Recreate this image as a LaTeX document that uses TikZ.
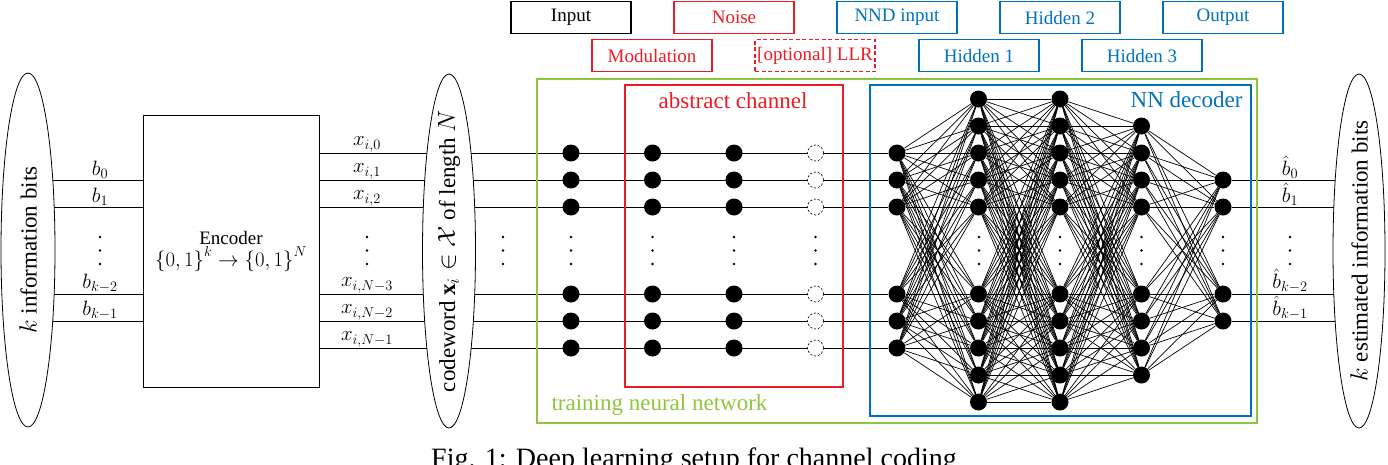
\documentclass[tikz,border=0pt]{standalone}
\usepackage{fontspec}
\setmainfont{Liberation Serif}
\usetikzlibrary{shapes.geometric}
\definecolor{myred}{RGB}{237,28,36}
\definecolor{mygreen}{RGB}{141,198,63}
\definecolor{myblue}{RGB}{0,114,188}
\pgfdeclarelayer{edges}
\pgfsetlayers{edges,main}
\begin{document}
\begin{tikzpicture}[x=1pt,y=-1pt,
  every node/.style={font=\fontsize{19}{22}\selectfont},
  neuron/.style={circle, fill=black, inner sep=0pt, minimum size=17pt},
  llrnode/.style={circle, draw, dash pattern=on 2.2pt off 1.8pt, line width=0.6pt, fill=white, inner sep=0pt, minimum size=16pt},
  legend/.style={draw, line width=1.4pt, minimum width=120pt, minimum height=32pt, inner sep=0pt},
  grpline/.style={line width=1.5pt},
  bigell/.style={ellipse, draw, line width=0.8pt, fill=white, minimum width=54pt, minimum height=354pt, inner sep=0pt},
  wire/.style={line width=0.8pt},
  syn/.style={line width=0.7pt},
  bigtext/.style={font=\fontsize{23}{26}\selectfont},
  lab/.style={anchor=south, inner sep=1pt, font=\fontsize{21}{23}\selectfont}]
\useasboundingbox (0,0) rectangle (1388,464);

% group boxes
\draw[grpline, draw=mygreen] (537,79) coordinate (trainNW) rectangle (1257,423) coordinate (trainSE);
\draw[grpline, draw=myred] (625,85) coordinate (chanNW) rectangle (843,387) coordinate (chanSE);
\draw[grpline, draw=myblue] (870,85) coordinate (decNW) rectangle (1251,416) coordinate (decSE);
\node[bigtext, text=myred] (chanlab) at (733,101) {abstract channel};
\node[bigtext, text=myblue, anchor=east] (declab) at (1246,100) {NN decoder};
\node[bigtext, text=mygreen, anchor=west] (trainlab) at (548,405) {training neural network};

% legend
\node[legend] (lgin) at (571,17.5) {Input};
\node[legend, myred] (lgmod) at (652,55.5) {Modulation};
\node[legend, myred] (lgnoise) at (734,17.5) {Noise};
\node[legend, myred, dash pattern=on 4pt off 2.5pt] (lgllr) at (815,55.5) {[optional] LLR};
\node[legend, myblue] (lgnnd) at (897,17.5) {NND input};
\node[legend, myblue] (lgh1) at (979,55.5) {Hidden 1};
\node[legend, myblue] (lgh2) at (1060,17.5) {Hidden 2};
\node[legend, myblue] (lgh3) at (1142,55.5) {Hidden 3};
\node[legend, myblue] (lgout) at (1223,17.5) {Output};

% ellipses and encoder
\node[bigell] (kin) at (28,250) {};
\node[bigtext, rotate=90] (kintext) at (kin.center) {$k$ information bits};
\node[bigell, minimum width=53pt] (cw) at (449,251) {};
\node[bigtext, rotate=90] (cwtext) at (cw.center) {codeword $\mathbf{x}_i \in \mathcal{X}$ of length $N$};
\node[bigell, minimum width=52pt] (kout) at (1359,251) {};
\node[bigtext, rotate=90] (kouttext) at (kout.center) {$k$ estimated information bits};
\node[draw, line width=0.8pt, fill=white, minimum width=176pt, minimum height=272pt, inner sep=0pt, align=center] (enc) at (231,251) {Encoder\\ \fontsize{21}{22}\selectfont $\left\{0,1\right\}^k \rightarrow \left\{0,1\right\}^N$};

% neurons
\foreach \c in {0,1,2,4} {
  \foreach \y [count=\r] in {153,180,207,294,321,348}
    \node[neuron] (n\c-\r) at ({571+81.5*\c},\y) {};
}
\foreach \y [count=\r] in {153,180,207,294,321,348}
  \node[llrnode] (n3-\r) at (815.5,\y) {};
\foreach \c in {5,6} {
  \foreach \y [count=\r] in {99,126,153,180,207,294,321,348,375,402}
    \node[neuron] (n\c-\r) at ({571+81.5*\c},\y) {};
}
\foreach \y [count=\r] in {126,153,180,207,294,321,348,375}
  \node[neuron] (n7-\r) at (1141.5,\y) {};
\foreach \y [count=\r] in {180,207,294,321}
  \node[neuron] (n8-\r) at (1223,\y) {};

% connectors
\begin{pgfonlayer}{edges}
\foreach \r in {1,...,6} \draw[wire] (enc.east |- n0-\r) -- (n4-\r);
\foreach \y in {180,207,294,321} \draw[wire] (kin.center |- 0,\y) -- (enc.west |- 0,\y);
\foreach \r in {1,...,4} \draw[wire] (n8-\r) -- (kout.center |- n8-\r);
\foreach \i in {1,...,6} \foreach \j in {1,...,10} \draw[syn] (n4-\i) -- (n5-\j);
\foreach \i in {1,...,10} \foreach \j in {1,...,10} \draw[syn] (n5-\i) -- (n6-\j);
\foreach \i in {1,...,10} \foreach \j in {1,...,8} \draw[syn] (n6-\i) -- (n7-\j);
\foreach \i in {1,...,8} \foreach \j in {1,...,4} \draw[syn] (n7-\i) -- (n8-\j);
\end{pgfonlayer}

% labels
\foreach \y/\t [count=\k] in {180/b_0, 207/b_1, 294/b_{k-2}, 321/b_{k-1}}
  \node[lab] (bl\k) at (100,\y) {$\t$};
\foreach \y/\t [count=\k] in {153/x_{i,0}, 180/x_{i,1}, 207/x_{i,2}, 294/x_{i,N-3}, 321/x_{i,N-2}, 348/x_{i,N-1}}
  \node[lab] (xl\k) at (367,\y) {$\t$};
\foreach \y/\t [count=\k] in {180/\hat{b}_0, 207/\hat{b}_1, 294/\hat{b}_{k-2}, 321/\hat{b}_{k-1}}
  \node[lab] (hl\k) at (1290,\y) {$\t$};

% vertical dots
\foreach \x in {100,367,503,571,652.5,734,815.5,979,1060,1141.5,1223,1290}
  \foreach \y in {237,250.5,264}
    \fill (\x,\y) circle (1.4pt);

% caption
\node[font=\fontsize{28}{32}\selectfont, anchor=base] (cap) at (694,467) {Fig. 1: Deep learning setup for channel coding};
\end{tikzpicture}
\end{document}
